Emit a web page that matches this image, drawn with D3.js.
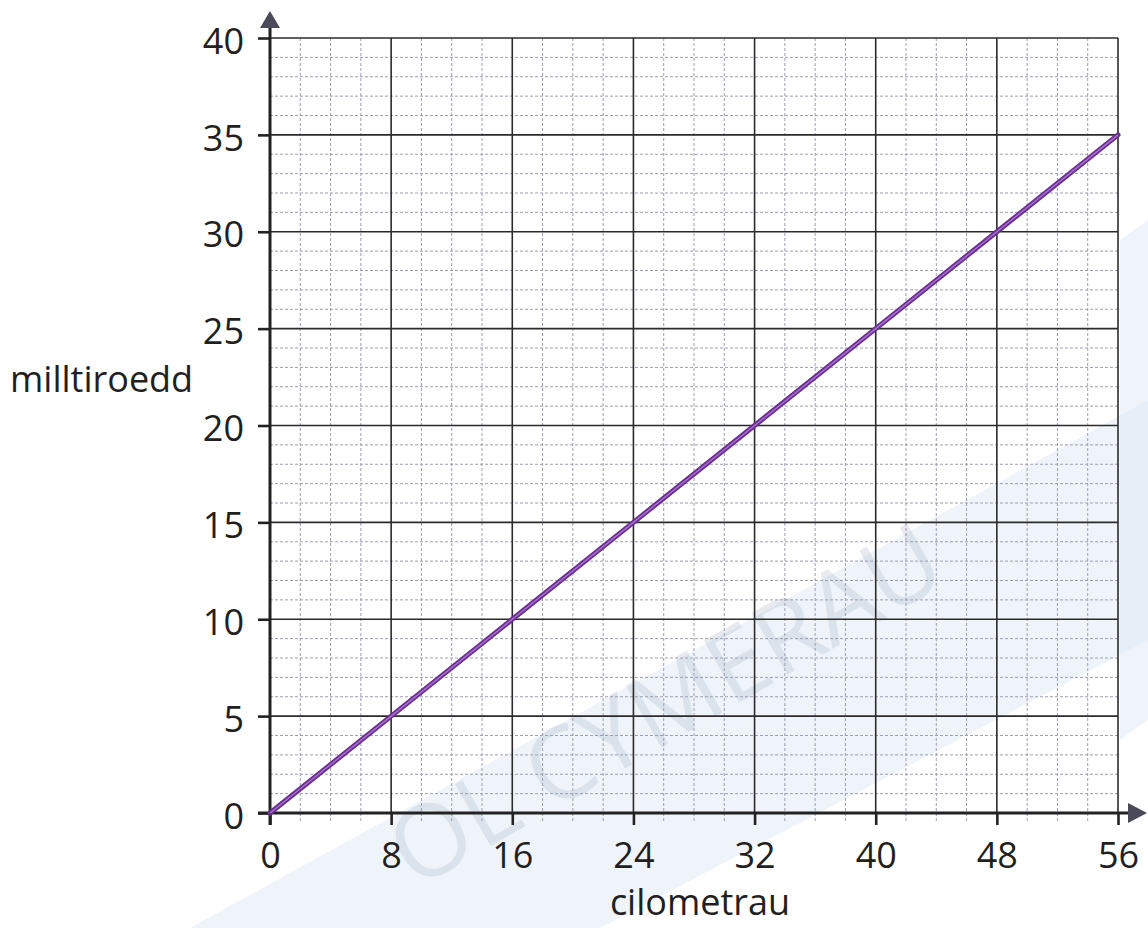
<!DOCTYPE html>
<html>
<head>
<meta charset="utf-8">
<script src="https://cdn.jsdelivr.net/npm/d3@7"></script>
<style>
  html, body { margin: 0; padding: 0; background: #fff; }
  svg { display: block; }
  text { font-family: "Open Sans", "Noto Sans", sans-serif; fill: #231f20; }
</style>
</head>
<body>
<svg id="chart" width="1148" height="928"></svg>
<script>
// ---- data ----
const kilometres = [0, 8, 16, 24, 32, 40, 48, 56];
const miles      = [0, 5, 10, 15, 20, 25, 30, 35];
const xTicks = [0, 8, 16, 24, 32, 40, 48, 56];
const yTicks = [0, 5, 10, 15, 20, 25, 30, 35, 40];
const xMinor = [2, 4, 6, 10, 12, 14, 18, 20, 22, 26, 28, 30, 34, 36, 38, 42, 44, 46, 50, 52, 54];
const yMinor = [1, 2, 3, 4, 6, 7, 8, 9, 11, 12, 13, 14, 16, 17, 18, 19, 21, 22, 23, 24,
                26, 27, 28, 29, 31, 32, 33, 34, 36, 37, 38, 39];
const xTitle = "cilometrau";
const yTitle = "milltiroedd";
const watermark = "OL CYMERAU";

const svg = d3.select("#chart");
const x = d3.scaleLinear().domain([0, 56]).range([270, 1118]);
const y = d3.scaleLinear().domain([0, 40]).range([813, 38]);

// faint watermark bands
const bg = svg.append("g");
bg.append("path")
  .attr("d", "M190,928 L1148,400 L1148,640 L600,928 Z")
  .attr("fill", "#dde9f6").attr("opacity", 0.5);
bg.append("path")
  .attr("d", "M1120,240 L1148,220 L1148,720 L1120,740 Z")
  .attr("fill", "#dde9f6").attr("opacity", 0.5);
bg.append("text")
  .attr("transform", "translate(415,890) rotate(-30)")
  .attr("font-size", 100)
  .style("fill", "#8e9cb2")
  .attr("opacity", 0.2)
  .text(watermark);

// minor grid (dashed)
const minor = svg.append("g")
  .attr("stroke", "#9d9db2").attr("stroke-width", 1).attr("stroke-dasharray", "3,2");
minor.selectAll("line.vx").data(xMinor).join("line")
  .attr("x1", d => x(d)).attr("x2", d => x(d))
  .attr("y1", y(40)).attr("y2", y(0) + 9);
minor.selectAll("line.hy").data(yMinor).join("line")
  .attr("x1", x(0)).attr("x2", x(56))
  .attr("y1", d => y(d)).attr("y2", d => y(d));

// major grid
const major = svg.append("g").attr("stroke", "#2b2b2b").attr("stroke-width", 1.6);
major.selectAll("line.v").data(xTicks.filter(d => d > 0)).join("line")
  .attr("x1", d => x(d)).attr("x2", d => x(d))
  .attr("y1", y(40)).attr("y2", y(0));
major.selectAll("line.h").data(yTicks.filter(d => d > 0)).join("line")
  .attr("x1", x(0)).attr("x2", x(56))
  .attr("y1", d => y(d)).attr("y2", d => y(d));

// axes (ticks + labels)
const xAxis = svg.append("g")
  .attr("transform", `translate(0,${y(0)})`)
  .call(d3.axisBottom(x).tickValues(xTicks).tickSize(12).tickPadding(17).tickFormat(d3.format("d")));
const yAxis = svg.append("g")
  .attr("transform", `translate(${x(0)},0)`)
  .call(d3.axisLeft(y).tickValues(yTicks).tickSize(12).tickPadding(14).tickFormat(d3.format("d")));
[xAxis, yAxis].forEach(g => {
  g.select(".domain").remove();
  g.selectAll(".tick line").attr("stroke", "#222").attr("stroke-width", 2.6);
  g.selectAll(".tick text").attr("font-size", 36).attr("fill", "#231f20")
    .style("font-family", '"Open Sans", sans-serif');
});
yAxis.selectAll(".tick text").attr("dy", "0.42em");

// axis lines with arrowheads
svg.append("line").attr("x1", x(0)).attr("x2", x(0)).attr("y1", y(0) + 12).attr("y2", 26)
  .attr("stroke", "#222").attr("stroke-width", 3);
svg.append("line").attr("x1", x(0) - 12).attr("x2", 1130).attr("y1", y(0)).attr("y2", y(0))
  .attr("stroke", "#222").attr("stroke-width", 3);
svg.append("path").attr("d", `M${x(0) - 10},28 L${x(0)},11 L${x(0) + 10},28 Z`).attr("fill", "#4a4a58");
svg.append("path").attr("d", `M1128,${y(0) - 10} L1147,${y(0)} L1128,${y(0) + 10} Z`).attr("fill", "#4a4a58");

// conversion line
const pts = kilometres.map((k, i) => [k, miles[i]]);
const line = d3.line().x(d => x(d[0])).y(d => y(d[1]));
svg.append("path").datum(pts).attr("d", line)
  .attr("fill", "none").attr("stroke", "#6a2d90").attr("stroke-width", 5).attr("stroke-linecap", "round");
svg.append("path").datum(pts).attr("d", line)
  .attr("fill", "none").attr("stroke", "#a872cf").attr("stroke-width", 1.4);

// titles
svg.append("text").attr("x", 700).attr("y", 915).attr("text-anchor", "middle")
  .attr("font-size", 36).text(xTitle);
svg.append("text").attr("x", 10).attr("y", 392).attr("text-anchor", "start")
  .attr("font-size", 36).text(yTitle);
</script>
</body>
</html>
